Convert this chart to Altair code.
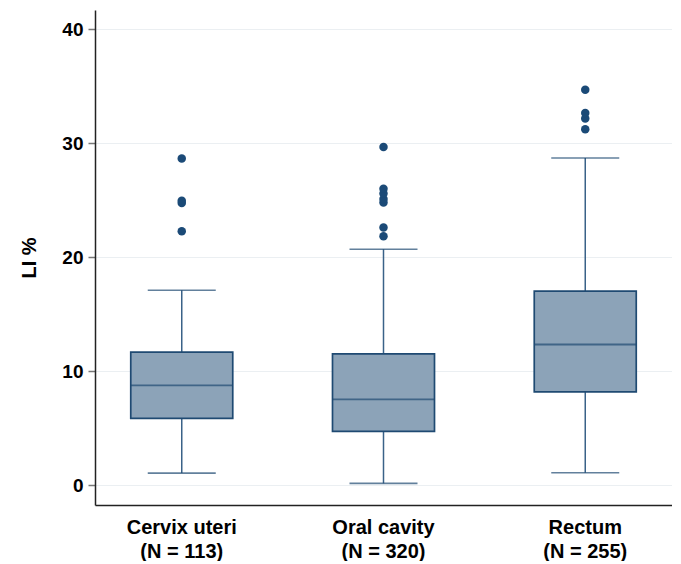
import altair as alt
import pandas as pd

categories = ["Cervix uteri\n(N = 113)", "Oral cavity\n(N = 320)", "Rectum\n(N = 255)"]
whisker_low = [1.05, 0.15, 1.08]
q1 = [5.85, 4.71, 8.18]
median = [8.75, 7.52, 12.34]
q3 = [11.67, 11.52, 17.02]
whisker_high = [17.1, 20.7, 28.71]
outliers = [
    [22.28, 24.75, 24.95, 28.66],
    [21.84, 22.6, 24.8, 25.1, 25.6, 26.0, 29.68],
    [31.23, 32.17, 32.66, 34.71],
]

stats = pd.DataFrame({
    "cat": categories, "lo": whisker_low, "q1": q1, "med": median,
    "q3": q3, "hi": whisker_high,
})
out_rows = [{"cat": c, "v": v} for c, vals in zip(categories, outliers) for v in vals]
outs = pd.DataFrame(out_rows)

FILL = "#8CA3B8"
STROKE = "#1F4A72"
WHISK = "#3A6288"
DOT = "#1B4A77"

x = alt.X("cat:N", sort=categories, title=None,
          scale=alt.Scale(paddingInner=0.16, paddingOuter=0.01),
          axis=alt.Axis(labelExpr="split(datum.label, '\\n')", labelAngle=0,
                        ticks=False, labelPadding=12, labelLineHeight=24))
yscale = alt.Scale(domain=[-1.75, 41.7], nice=False, zero=False)
y_axis = alt.Axis(values=[0, 10, 20, 30, 40], title="LI %", grid=True)

base = alt.Chart(stats)

whisk_lo = base.mark_rule(color=WHISK, strokeWidth=1.5).encode(
    x=x, y=alt.Y("lo:Q", scale=yscale, axis=y_axis), y2="q1:Q")
whisk_hi = base.mark_rule(color=WHISK, strokeWidth=1.5).encode(
    x=x, y=alt.Y("q3:Q", scale=yscale), y2="hi:Q")
cap_lo = base.mark_tick(color=STROKE, size=68, thickness=1.6).encode(
    x=x, y=alt.Y("lo:Q", scale=yscale))
cap_hi = base.mark_tick(color=STROKE, size=68, thickness=1.6).encode(
    x=x, y=alt.Y("hi:Q", scale=yscale))
box = base.mark_bar(fill=FILL, stroke=STROKE, strokeWidth=1.7, size=102, opacity=1).encode(
    x=x, y=alt.Y("q1:Q", scale=yscale), y2="q3:Q")
med = base.mark_tick(color=STROKE, size=102, thickness=1.8).encode(
    x=x, y=alt.Y("med:Q", scale=yscale))
pts = alt.Chart(outs).mark_circle(color=DOT, size=72, opacity=1).encode(
    x=x, y=alt.Y("v:Q", scale=yscale))

chart = alt.layer(whisk_lo, whisk_hi, cap_lo, cap_hi, box, med, pts).properties(
    width=577, height=495,
    autosize=alt.AutoSizeParams(type="none"),
    padding={"left": 87, "top": 2, "right": 0, "bottom": 56},
).configure_view(stroke=None).configure_axis(
    labelFont="Liberation Sans", titleFont="Liberation Sans",
    labelFontWeight="bold", titleFontWeight="bold",
    labelColor="black", titleColor="black",
    domainColor="#222222", domainWidth=1.5,
    gridColor="#EBEFF2", gridWidth=1.2,
    tickColor="#777777", tickSize=7, tickWidth=1.5,
).configure_axisY(
    labelFontSize=19, titleFontSize=20, labelPadding=5, titlePadding=22,
).configure_axisX(
    labelFontSize=20,
)

chart.save("out.html", embed_options={"renderer": "svg", "actions": False})
